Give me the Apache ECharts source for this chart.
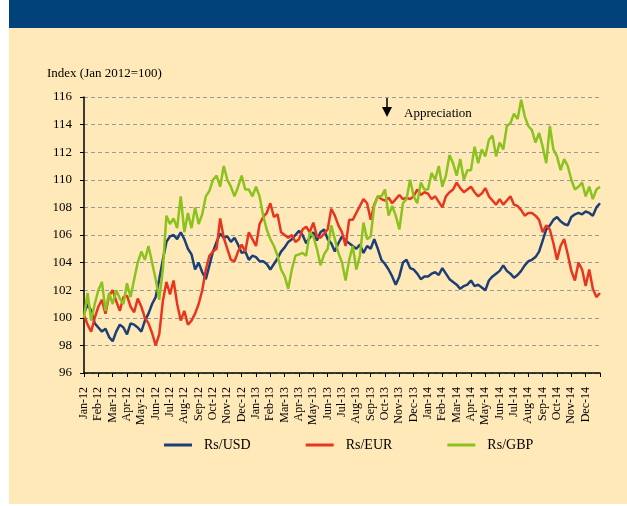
<!DOCTYPE html>
<html>
<head>
<meta charset="utf-8">
<script src="https://cdn.jsdelivr.net/npm/echarts@6/dist/echarts.min.js"></script>
<style>
  body { margin: 0; background: #fff; }
  #wrap { position: relative; width: 627px; height: 506px; background: #fff; }
  .band { position: absolute; left: 9px; top: 0; width: 618px; height: 28px; background: #02427b; }
  .panel { position: absolute; left: 9px; top: 28px; width: 618px; height: 476px; background: #ffe9b9; }
  #chart { position: absolute; left: 0; top: 0; width: 627px; height: 506px; }
</style>
</head>
<body>
<div id="wrap">
  <div class="band"></div>
  <div class="panel"></div>
  <div id="chart"></div>
</div>
<script>
// month tick labels
var monthLabels = ['Jan-12','Feb-12','Mar-12','Apr-12','May-12','Jun-12','Jul-12','Aug-12','Sep-12','Oct-12','Nov-12','Dec-12',
  'Jan-13','Feb-13','Mar-13','Apr-13','May-13','Jun-13','Jul-13','Aug-13','Sep-13','Oct-13','Nov-13','Dec-13',
  'Jan-14','Feb-14','Mar-14','Apr-14','May-14','Jun-14','Jul-14','Aug-14','Sep-14','Oct-14','Nov-14','Dec-14']
var perMonth = 4 // readings per month

// Index (Jan 2012=100), roughly weekly
var usd = [
  100.3,101.0,100.5,99.6, 99.3,99.0,99.2,98.6, 98.3,99.0,99.5,99.3, 98.8,99.6,99.5,99.3,
  99.0,99.8,100.3,101.0, 101.5,102.8,104.2,105.5, 105.9,106.0,105.7,106.2, 105.7,105.0,104.6,103.5,
  104.0,103.3,102.8,103.8, 104.8,105.5,106.1,105.8, 105.9,105.5,105.8,105.3, 104.7,104.8,104.2,104.5,
  104.4,104.1,104.1,103.9, 103.5,103.9,104.3,104.8, 105.1,105.5,105.7,106.0, 106.3,106.0,105.4,105.8,
  106.2,105.6,106.2,106.4, 105.7,105.4,104.8,105.4, 105.9,105.6,105.4,105.2, 105.0,105.3,104.7,105.2,
  105.0,105.7,105.0,104.2, 103.9,103.5,103.0,102.4, 103.0,104.0,104.2,103.6, 103.5,103.2,102.8,103.0,
  103.0,103.2,103.3,103.1, 103.6,103.2,102.8,102.6, 102.4,102.1,102.3,102.4, 102.7,102.3,102.4,102.2,
  102.0,102.7,103.0,103.2, 103.4,103.8,103.4,103.2, 102.9,103.1,103.4,103.8, 104.1,104.2,104.4,104.8,
  105.6,106.4,106.7,107.1, 107.3,107.0,106.8,106.7, 107.3,107.5,107.6,107.5, 107.7,107.6,107.4,108.0,
  108.3
]
var eur = [
  100.2,99.5,99.0,100.0, 100.8,101.3,100.3,101.6, 102.0,101.2,100.5,101.5, 101.6,100.8,100.4,101.4,
  100.8,100.0,99.6,98.9, 98.0,98.8,101.2,102.6, 101.7,102.7,101.0,99.8, 100.5,99.5,99.8,100.3,
  101.0,102.0,103.5,104.5, 104.8,105.0,107.2,105.8, 105.0,104.2,104.1,104.8, 105.3,104.8,106.2,105.7,
  105.2,106.8,107.3,107.6, 108.3,107.3,107.5,106.2, 106.0,105.8,106.0,105.5, 105.7,106.4,106.6,106.2,
  106.9,105.9,105.8,106.1, 106.4,107.9,107.4,106.7, 106.2,105.2,107.1,107.1, 107.6,108.1,108.6,108.3,
  107.1,108.2,108.8,108.6, 108.5,108.7,108.3,108.6, 108.9,108.6,108.7,108.6, 108.8,109.3,108.9,109.1,
  109.0,108.6,108.8,108.4, 108.0,108.8,109.1,109.3, 109.8,109.4,109.1,109.3, 109.5,109.1,108.8,109.0,
  109.4,108.8,108.5,108.2, 108.6,108.2,108.5,108.8, 108.2,108.1,107.8,107.4, 107.6,107.6,107.4,107.1,
  106.2,106.7,106.4,105.4, 104.2,105.2,105.7,104.6, 103.4,102.7,104.0,103.5, 102.3,103.5,102.1,101.5,
  101.8
]
var gbp = [
  100.0,101.8,99.8,101.0, 102.0,102.6,100.5,101.8, 101.0,102.0,101.4,101.0, 102.5,101.5,102.8,104.0,
  104.8,104.2,105.2,104.0, 102.8,101.3,103.5,107.4, 106.8,107.2,106.5,108.8, 106.2,107.6,106.5,108.0,
  106.8,107.5,108.8,109.2, 110.0,110.3,109.5,111.0, 110.0,109.5,108.8,109.5, 110.3,109.3,109.3,108.8,
  109.5,108.8,107.4,106.4, 105.7,105.2,104.5,103.5, 103.0,102.1,103.5,104.5, 104.6,104.7,104.5,106.2,
  105.9,105.0,103.8,104.6, 105.0,106.7,105.7,104.7, 104.0,102.7,104.2,105.2, 103.5,104.5,106.9,105.7,
  105.9,108.1,108.8,108.8, 109.3,107.4,108.1,107.4, 106.4,108.3,108.6,110.0, 108.8,108.3,109.8,109.3,
  109.3,110.5,110.0,111.0, 109.5,110.3,111.8,111.2, 110.3,111.5,110.0,110.7, 110.7,112.4,111.2,112.2,
  111.7,112.9,113.2,111.7, 112.7,112.2,113.9,114.1, 114.8,114.4,115.8,114.6, 113.9,113.6,112.7,113.4,
  112.4,111.2,113.9,112.2, 111.7,110.7,111.5,111.0, 110.0,109.3,109.5,109.8, 108.8,109.5,108.6,109.3,
  109.5
]

var cats = usd.map(function (v, i) { return i })
var serif = 'Liberation Serif'

var chart = echarts.init(document.getElementById('chart'))
var option = {
  animation: false,
  backgroundColor: 'transparent',
  title: {
    text: 'Index (Jan 2012=100)',
    left: 42,
    top: 62,
    textStyle: { fontFamily: serif, fontSize: 13, fontWeight: 'normal', color: '#000' }
  },
  grid: { left: 84, top: 97, width: 516, height: 276 },
  legend: {
    bottom: 49,
    left: 159,
    itemWidth: 28,
    itemHeight: 3,
    itemGap: 55,
    icon: 'rect',
    textStyle: { fontFamily: serif, fontSize: 14, color: '#000', padding: [0, 0, 0, 7] },
    data: ['Rs/USD', 'Rs/EUR', 'Rs/GBP']
  },
  xAxis: {
    type: 'category',
    data: cats,
    boundaryGap: false,
    axisLine: { lineStyle: { color: '#000', width: 1.5 } },
    axisTick: { interval: perMonth - 1, length: 4, lineStyle: { color: '#000' } },
    axisLabel: {
      interval: perMonth - 1,
      rotate: 90,
      margin: 14,
      fontFamily: serif,
      fontSize: 12,
      color: '#000',
      formatter: function (v, idx) { return monthLabels[idx / perMonth] || '' }
    },
    splitLine: { show: false }
  },
  yAxis: {
    type: 'value',
    min: 96,
    max: 116,
    interval: 2,
    axisLine: { show: true, lineStyle: { color: '#000', width: 1.5 } },
    axisTick: { show: true, length: 4, lineStyle: { color: '#000' } },
    axisLabel: { margin: 12, fontFamily: serif, fontSize: 13, color: '#000' },
    splitLine: { lineStyle: { color: '#9a9a9a', type: [4, 3], width: 1 } }
  },
  series: [
    { name: 'Rs/USD', type: 'line', data: usd, showSymbol: false, color: '#1d3f75', lineStyle: { width: 2.5 } },
    { name: 'Rs/EUR', type: 'line', data: eur, showSymbol: false, color: '#e8361e', lineStyle: { width: 2.5 } },
    { name: 'Rs/GBP', type: 'line', data: gbp, showSymbol: false, color: '#8cc21d', lineStyle: { width: 2.5 } }
  ],
  graphic: [
    { type: 'line', shape: { x1: 387, y1: 98, x2: 387, y2: 110 }, style: { stroke: '#000', lineWidth: 1.5 } },
    { type: 'polygon', shape: { points: [[382, 107], [392, 107], [387, 117]] }, style: { fill: '#000' } },
    { type: 'text', left: 404, top: 107, style: { text: 'Appreciation', font: '13px "Liberation Serif"', fill: '#000' } }
  ]
}
chart.setOption(option)
</script>
</body>
</html>
